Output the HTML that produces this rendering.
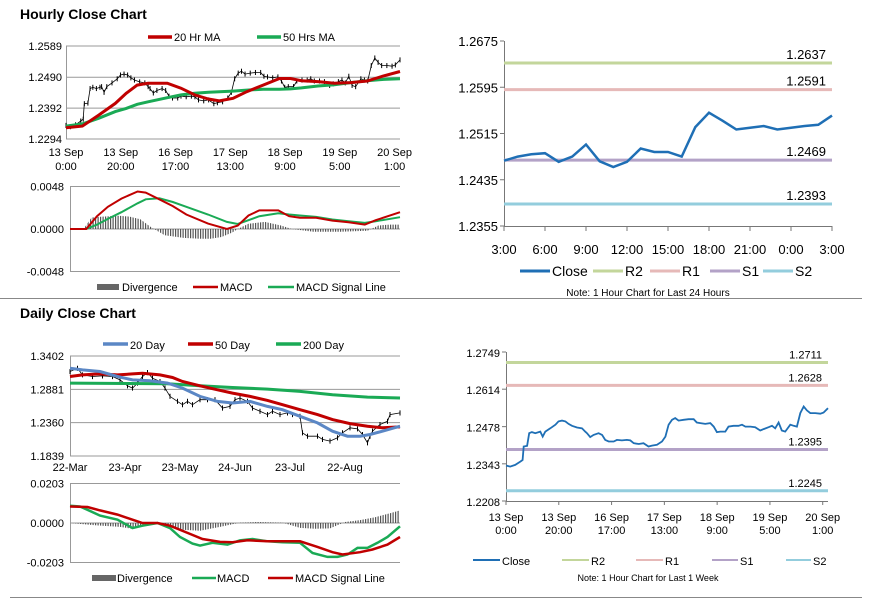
<!DOCTYPE html>
<html><head><meta charset="utf-8"><style>
body{margin:0;background:#fff;}
svg{display:block;font-family:"Liberation Sans",Arial,sans-serif;}
.t{font-size:11px;fill:#000;}
.title{font-size:14px;font-weight:bold;fill:#000;}
</style></head><body>
<svg id="c" width="873" height="601" viewBox="0 0 873 601" xmlns="http://www.w3.org/2000/svg">
<defs>
<pattern id="hatch" width="2.5" height="4" patternUnits="userSpaceOnUse"><rect x="0" y="0" width="1.2" height="4" fill="#555"/></pattern>
</defs>
<text x="20" y="19" class="title">Hourly Close Chart</text>
<text x="20" y="318" class="title">Daily Close Chart</text>
<line x1="0" y1="298.5" x2="862" y2="298.5" stroke="#888" stroke-width="1"/>
<line x1="10" y1="597.5" x2="862" y2="597.5" stroke="#888" stroke-width="1"/>
</svg>
<script>
// ---------- DATA ----------
// Hourly week (13 Sep 0:00 .. 20 Sep), hours since start
const weekHours=[0,1.6,3.5,5.4,6.3,6.7,8,8.8,9.8,11.1,12.4,13,13.9,14.9,16.8,18.7,19.9,21.2,22.5,23.7,25,26.9,28.8,30,30.7,31.9,33.2,35.1,36.4,37.6,38.9,40.8,42,43.9,45.8,47.1,48.4,50.3,52.1,54,55.3,57.2,59.1,60.4,61.6,62.9,64.1,65.4,67.3,69.2,71.1,72.3,73.6,75.5,77.4,78.7,79.9,81.2,83.1,84.3,86.2,88.1,89.4,90.7,92.6,94.4,96.3,97.6,99.5,100.8,102,103.3,104.5,105.8,107.7,109,110.2,111.5,112.8,114,115.3,117.2,119.1,120.3,122];
const weekClose=[1.2337,1.2333,1.2339,1.2351,1.2357,1.2406,1.2408,1.2454,1.2458,1.2454,1.2458,1.2460,1.2442,1.2460,1.2472,1.2485,1.2497,1.2500,1.2497,1.2488,1.2481,1.2475,1.2472,1.2460,1.2454,1.2440,1.2448,1.2454,1.2448,1.2430,1.2424,1.2424,1.2430,1.2428,1.2430,1.2428,1.2418,1.2415,1.2418,1.2406,1.2409,1.2412,1.2424,1.2442,1.2485,1.2503,1.2509,1.2500,1.2503,1.2505,1.2505,1.2493,1.2491,1.2488,1.2491,1.2478,1.2458,1.2460,1.2460,1.2478,1.2481,1.2481,1.2485,1.2478,1.2478,1.2476,1.2464,1.2469,1.2476,1.2481,1.2472,1.2493,1.2464,1.2460,1.2485,1.2481,1.2478,1.2527,1.2551,1.2537,1.2527,1.2527,1.2525,1.2529,1.2545];
const maHours=[0,6,12,18,22,26,30,37,42,47,52,56,61,66,72,78,82,86,92,98,104,110,116,122];
const ma20=[1.2330,1.2335,1.2370,1.2407,1.2439,1.2465,1.2471,1.2471,1.2455,1.2434,1.2421,1.2415,1.2423,1.2444,1.2465,1.2486,1.2486,1.2479,1.2476,1.2471,1.2473,1.2478,1.2494,1.2508];
const ma50=[1.2335,1.2342,1.2360,1.2381,1.2391,1.2404,1.2412,1.2425,1.2434,1.2439,1.2442,1.2444,1.2446,1.2449,1.2452,1.2452,1.2453,1.2456,1.2462,1.2466,1.2473,1.2479,1.2483,1.2485];
const hTicks=["13 Sep|0:00","13 Sep|20:00","16 Sep|17:00","17 Sep|13:00","18 Sep|9:00","19 Sep|5:00","20 Sep|1:00"];
const hTickHours=[0,20,40,60,80,100,120];
const hPriceTicks=[1.2589,1.2490,1.2392,1.2294];
const macdHours=[0,6,10,14,19,25,28,33,38,43,51,58,62,66,70,77,81,85,91,97,103,109,113,122];
const hMacd=[0,0,.00145,.00251,.00343,.00423,.00411,.00335,.00259,.00164,.00061,0,.00038,.00152,.00210,.00210,.00145,.00126,.00126,.00095,.00076,.00050,.00099,.00190];
const hSignal=[0,0,.0005,.00114,.0019,.0029,.00335,.00347,.00305,.00251,.00164,.0008,.00057,.00099,.00145,.00179,.00164,.00152,.00137,.00107,.00088,.00069,.00088,.00133];
const divHours=[0,5,8,12,18,22,26,30,35,42,48,52,56,60,62,66,72,78,82,90,100,110,114,118,122];
const hDiv=[0,0,.0013,.0014,.0015,.0014,.0011,.0002,-.0007,-.0010,-.0011,-.0011,-.0009,-.0004,0,.0006,.0008,.0004,0,-.0003,-.0003,-.0002,.0004,.0005,.0005];
const hMacdTicks=["0.0048","0.0000","-0.0048"];
// 24h chart
const dayLabels=["3:00","6:00","9:00","12:00","15:00","18:00","21:00","0:00","3:00"];
const close24=[1.2468,1.2475,1.2479,1.2481,1.2466,1.2475,1.2496,1.2467,1.2457,1.2466,1.2489,1.2483,1.2483,1.2475,1.2526,1.2551,1.2537,1.2522,1.2525,1.2528,1.2522,1.2525,1.2528,1.2530,1.2546];
const levels24=[1.2637,1.2591,1.2469,1.2393];
const y24Ticks=[1.2675,1.2595,1.2515,1.2435,1.2355];
const levelsWeek=[1.2711,1.2628,1.2395,1.2245];
const yWeekTicks=[1.2749,1.2614,1.2478,1.2343,1.2208];
// Daily
const dDays=[0,3,5,9,13,17,20,23,25,27,29,31,33,36,38,40,43,45,47,49,52,55,58,61,64,66,68,71,73,76,79,81,84,87,89,92,93,95,99,101,104,107,109,112,115,117,119,120,121,124,127,128,132];
const dClose=[1.3159,1.3210,1.3107,1.3081,1.3091,1.3081,1.3029,1.2936,1.2900,1.2978,1.3081,1.3143,1.3055,1.3003,1.2900,1.2771,1.2693,1.2641,1.2693,1.2641,1.2719,1.2719,1.2719,1.2589,1.2615,1.2719,1.2745,1.2693,1.2589,1.2538,1.2486,1.2538,1.2486,1.2512,1.2486,1.2460,1.2201,1.2149,1.2149,1.2098,1.2072,1.2124,1.2201,1.2279,1.2263,1.2175,1.2046,1.2149,1.2227,1.2331,1.2382,1.2486,1.2512];
const d20Days=[0,5,12,19,25,32,39,45,52,59,65,72,79,85,92,99,105,111,116,120,125,132];
const d20=[1.3210,1.3185,1.3159,1.3081,1.3029,1.3014,1.2978,1.2900,1.2771,1.2693,1.2667,1.2693,1.2615,1.2563,1.2460,1.2356,1.2227,1.2149,1.2149,1.2175,1.2227,1.2305];
const d50Days=[0,5,12,19,25,29,36,41,45,52,59,65,72,79,85,92,99,105,112,119,125,132];
const d50=[1.3081,1.3107,1.3122,1.3107,1.3122,1.3133,1.3107,1.3066,1.3003,1.2936,1.2874,1.2822,1.2771,1.2708,1.2641,1.2563,1.2486,1.2408,1.2346,1.2305,1.2279,1.2294];
const d200Days=[0,39,52,65,79,92,105,119,132];
const d200=[1.2978,1.2967,1.2936,1.2910,1.2884,1.2848,1.2796,1.2760,1.2745];
const dTicks=["22-Mar","23-Apr","23-May","24-Jun","23-Jul","22-Aug"];
const dTickDays=[0,22,44,66,88,110];
const dPriceTicks=[1.3402,1.2881,1.2360,1.1839];
const dMacdDays=[0,4,7,12,19,25,29,35,40,44,49,52,57,63,68,73,79,85,92,97,103,107,111,115,119,123,127,132];
const dMacd=[.0089,.0085,.0068,.0038,.0017,-.0026,-.0014,0,-.0026,-.0072,-.0106,-.0116,-.0102,-.0111,-.0089,-.0082,-.0094,-.0099,-.0102,-.0154,-.0174,-.0174,-.0162,-.0128,-.0128,-.0102,-.0072,-.0017];
const dSigDays=[0,7,12,19,25,29,35,40,47,53,60,65,71,79,85,92,99,105,109,116,121,127,132];
const dSig=[.0085,.0082,.0065,.0043,.0017,0,0,-.0014,-.0051,-.0082,-.0097,-.0099,-.0089,-.0094,-.0094,-.0094,-.0123,-.0150,-.0162,-.0150,-.0136,-.0111,-.0072];
const dDivDays=[0,10,20,25,30,38,45,52,60,68,75,85,92,98,104,110,116,122,128,132];
const dDiv=[0,-.0012,-.0020,-.0030,-.0008,-.0005,-.0035,-.0040,-.0020,.0002,.0005,.0002,-.0025,-.0030,-.0028,.0005,.0015,.0030,.0050,.0065];
const dMacdTicks=["0.0203","0.0000","-0.0203"];

// ---------- SCALES ----------
const H1x=h=>66+h*(334/122), H1y=v=>139-(v-1.2294)/0.0295*93;
const H2x=h=>70+h*(330/122), H2y=v=>229-v/0.0048*42.5;
const RTx=i=>504+i*(328/24), RTy=v=>41+(1.2675-v)/0.032*185;
const RBx=h=>506+h*(322/122), RBy=v=>352+(1.2749-v)/0.0541*149;
const Dx=d=>70+d*(330/132), Dy=v=>356+(1.3402-v)/0.1563*100;
const DMy=v=>523-v/0.0203*39.5;

const NS="http://www.w3.org/2000/svg";
const svg=document.getElementById('c');
function mk(tag,attrs){const e=document.createElementNS(NS,tag);for(const k in attrs)e.setAttribute(k,attrs[k]);svg.appendChild(e);return e;}
function txt(x,y,s,anchor,size,fill){const e=mk('text',{x:x,y:y,'text-anchor':anchor||'start','font-size':size||11,fill:fill||'#000'});e.textContent=s;return e;}
function path(xs,ys,fx,fy){return xs.map((x,i)=>(i?'L':'M')+fx(x).toFixed(1)+','+fy(ys[i]).toFixed(1)).join('');}
function hline(x1,x2,y,col,w){return mk('line',{x1:x1,x2:x2,y1:y,y2:y,stroke:col,'stroke-width':w||1});}

// ===== Hourly price (top-left) =====
hPriceTicks.forEach(v=>{
  const g=hline(66,400,H1y(v),'#999');
  
  
  const t=txt(62,H1y(v)+4,v.toFixed(4),'end',11);
  
  
});
let ax=mk('line',{x1:66.5,x2:66.5,y1:46,y2:139,stroke:'#999'});


hTicks.forEach((s,i)=>{
  const p=s.split('|');
  const t1=txt(H1x(hTickHours[i]),156,p[0],'middle',11);
  
  
  const t2=txt(H1x(hTickHours[i]),170,p[1],'middle',11);
  
  
});
weekClose.forEach((v,i)=>{
  const b=mk('line',{x1:H1x(weekHours[i]),x2:H1x(weekHours[i]),y1:H1y(v+0.0008),y2:H1y(v-0.0008),stroke:'#000','stroke-width':1});
  
  
});
let pc=mk('path',{d:path(weekHours,weekClose,H1x,H1y),fill:'none',stroke:'#000','stroke-width':0.8});


let m50=mk('path',{d:path(maHours,ma50,H1x,H1y),fill:'none',stroke:'#1aaa55','stroke-width':3});


let m20=mk('path',{d:path(maHours,ma20,H1x,H1y),fill:'none',stroke:'#c00000','stroke-width':3});


let l1=hline(148,172,37,'#c00000',3.5);
let l1t=txt(174,41,'20 Hr MA');
let l2=hline(257,281,37,'#1aaa55',3.5);
let l2t=txt(283,41,'50 Hrs MA');

// ===== Hourly MACD =====
[0.0048,0,-0.0048].forEach((v,i)=>{
  const g=hline(70,400,H2y(v),'#999');
  
  
  const t=txt(64,H2y(v)+4,hMacdTicks[i],'end',11);
  
  
});
ax=mk('line',{x1:70.5,x2:70.5,y1:187,y2:272,stroke:'#999'});


let hd=mk('path',{d:path(divHours,hDiv,H2x,H2y)+'L'+H2x(122)+','+H2y(0)+'L'+H2x(0)+','+H2y(0)+'Z',fill:'url(#hatch)',stroke:'none'});


let hs=mk('path',{d:path(macdHours,hSignal,H2x,H2y),fill:'none',stroke:'#1aaa55','stroke-width':2});


let hm=mk('path',{d:path(macdHours,hMacd,H2x,H2y),fill:'none',stroke:'#c00000','stroke-width':2});


let s1=mk('rect',{x:97,y:284,width:22,height:6,fill:'#666'});
let s1t=txt(122,291,'Divergence');
let s2=hline(193,218,287,'#c00000',2.5);
let s2t=txt(220,291,'MACD');
let s3=hline(268,294,287,'#1aaa55',2.5);
let s3t=txt(296,291,'MACD Signal Line');

// ===== Level charts (right) =====
const levelColors=['#c3d69b','#e6b9b8','#b3a2c7','#93cddd'];
function levelChart(prefix,xf,yf,x0,x1,yTop,yBot,yTicks,levels,labelSize){
  const a=mk('line',{x1:x0+0.5,x2:x0+0.5,y1:yTop,y2:yBot,stroke:'#777'});
  
  
  const b=mk('line',{x1:x0,x2:x1,y1:yBot+0.5,y2:yBot+0.5,stroke:'#777'});
  
  
  yTicks.forEach(v=>{
    const tk=hline(x0-4,x0,yf(v),'#777');
    
    
    const t=txt(x0-6,yf(v)+5,v.toFixed(4),'end',labelSize);
    
    
  });
  levels.forEach((v,i)=>{
    const l=hline(x0,x1,yf(v),levelColors[i],3);
    
    
    const t=txt(x1-6,yf(v)-4,v.toFixed(4),'end',labelSize);
    
    
  });
}
levelChart('day-chart',RTx,RTy,504,832,41,226,y24Ticks,levels24,13);
dayLabels.forEach((s,i)=>{
  const tk=mk('line',{x1:RTx(i*3),x2:RTx(i*3),y1:226,y2:231,stroke:'#777'});
  
  
  const t=txt(RTx(i*3),254,s,'middle',13);
  
  
});
let cl=mk('path',{d:close24.map((v,i)=>(i?'L':'M')+RTx(i).toFixed(1)+','+RTy(v).toFixed(1)).join(''),fill:'none',stroke:'#1f6fb5','stroke-width':2.5});


function legendRow(prefix,items,y,size){
  items.forEach(it=>{
    const l=hline(it[0],it[1],y,it[2],it[4]);
    
    
    const t=txt(it[1]+2,y+5,it[3],'start',size);
    
    
  });
}
legendRow('day-chart',[[520,550,'#1f6fb5','Close',3],[593,623,levelColors[0],'R2',3],[650,680,levelColors[1],'R1',3],[710,740,levelColors[2],'S1',3],[763,793,levelColors[3],'S2',3]],271,14);
let n1=txt(648,296,'Note: 1 Hour Chart for Last 24 Hours','middle',10);



levelChart('week-chart',RBx,RBy,506,828,352,501,yWeekTicks,levelsWeek,11);
hTicks.forEach((s,i)=>{
  const p=s.split('|');
  const tk=mk('line',{x1:RBx(hTickHours[i]),x2:RBx(hTickHours[i]),y1:501,y2:505,stroke:'#777'});
  
  
  const t1=txt(RBx(hTickHours[i]),521,p[0],'middle',11);
  
  
  const t2=txt(RBx(hTickHours[i]),534,p[1],'middle',11);
  
  
});
let wc=mk('path',{d:path(weekHours,weekClose,RBx,RBy),fill:'none',stroke:'#1f6fb5','stroke-width':1.8});


legendRow('week-chart',[[473,500,'#1f6fb5','Close',2],[562,589,levelColors[0],'R2',2],[636,663,levelColors[1],'R1',2],[712,738,levelColors[2],'S1',2],[786,811,levelColors[3],'S2',2]],560,11);
let n2=txt(648,581,'Note: 1 Hour Chart for Last 1 Week','middle',9);



// ===== Daily price =====
dPriceTicks.forEach(v=>{
  const g=hline(70,400,Dy(v),'#999');
  
  
  const t=txt(64,Dy(v)+4,v.toFixed(4),'end',11);
  
  
});
ax=mk('line',{x1:70.5,x2:70.5,y1:356,y2:456,stroke:'#999'});


dTicks.forEach((s,i)=>{
  const t=txt(Dx(dTickDays[i]),471,s,'middle',11);
  
  
});
dClose.forEach((v,i)=>{
  const b=mk('line',{x1:Dx(dDays[i]),x2:Dx(dDays[i]),y1:Dy(v+0.004),y2:Dy(v-0.004),stroke:'#000','stroke-width':1});
  
  
});
let dp=mk('path',{d:path(dDays,dClose,Dx,Dy),fill:'none',stroke:'#000','stroke-width':0.8});


let g200=mk('path',{d:path(d200Days,d200,Dx,Dy),fill:'none',stroke:'#1aaa55','stroke-width':3});


let r50=mk('path',{d:path(d50Days,d50,Dx,Dy),fill:'none',stroke:'#c00000','stroke-width':3});


let b20=mk('path',{d:path(d20Days,d20,Dx,Dy),fill:'none',stroke:'#5b87c5','stroke-width':3});


legendRow('daily',[[103,128,'#5b87c5','20 Day',3.5],[188,213,'#c00000','50 Day',3.5],[276,301,'#1aaa55','200 Day',3.5]],344,11);

// ===== Daily MACD =====
[0.0203,0,-0.0203].forEach((v,i)=>{
  const g=hline(70,400,DMy(v),'#999');
  
  
  const t=txt(64,DMy(v)+4,dMacdTicks[i],'end',11);
  
  
});
ax=mk('line',{x1:70.5,x2:70.5,y1:484,y2:563,stroke:'#999'});


let dd=mk('path',{d:path(dDivDays,dDiv,Dx,DMy)+'L'+Dx(132)+','+DMy(0)+'L'+Dx(0)+','+DMy(0)+'Z',fill:'url(#hatch)',stroke:'none'});


let dm=mk('path',{d:path(dMacdDays,dMacd,Dx,DMy),fill:'none',stroke:'#1aaa55','stroke-width':2.5});


let ds=mk('path',{d:path(dSigDays,dSig,Dx,DMy),fill:'none',stroke:'#c00000','stroke-width':2.5});


let e1=mk('rect',{x:92,y:575,width:24,height:6,fill:'#666'});
let e1t=txt(117,582,'Divergence');
let e2=hline(192,216,578,'#1aaa55',2.5);
let e2t=txt(217,582,'MACD');
let e3=hline(268,293,578,'#c00000',2.5);
let e3t=txt(295,582,'MACD Signal Line');
</script>
</body></html>
